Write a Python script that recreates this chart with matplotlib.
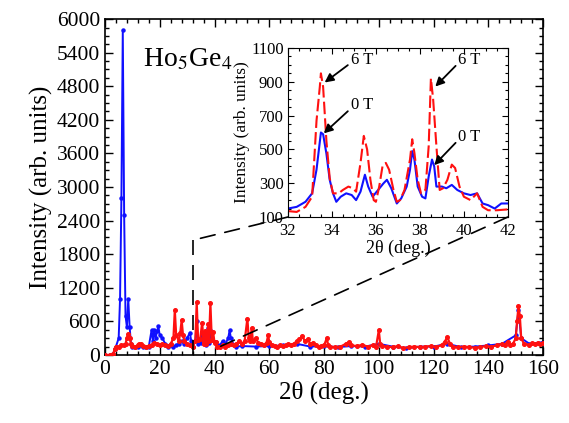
import matplotlib
matplotlib.use("Agg")
import matplotlib.pyplot as plt
from matplotlib.patches import ConnectionPatch
from matplotlib.ticker import MultipleLocator

plt.rcParams['font.family'] = ['Liberation Serif', 'DejaVu Serif']
plt.rcParams['mathtext.fontset'] = 'stix'
plt.rcParams['axes.formatter.use_mathtext'] = False

# --- dados do difratograma completo (2θ em graus, intensidade) ---
blue_x = [0, 2, 3, 3.5, 4, 5, 5.5, 6, 6.5, 7, 7.5, 8, 8.5, 9, 9.5, 10, 11, 12, 13, 14,
          15, 16, 17, 17.5, 18, 18.5, 19, 19.5, 20, 21, 22, 23, 24, 25, 26, 27, 28, 29,
          30, 31, 31.5, 32, 33, 33.5, 34, 35, 35.5, 36, 36.5, 37, 37.7, 38, 38.5, 39, 40,
          40.6, 41, 42, 43, 44, 45, 45.5, 46, 47, 48, 50, 55, 60, 65, 70, 75, 80, 85, 90,
          95, 100, 105, 110, 115, 120, 125, 130, 135, 140, 145, 150, 151, 152, 155, 160]
blue_y = [0, 0, 20, 100, 150, 300, 1000, 2800, 5800, 2500, 700, 500, 1000, 500, 200, 150,
          140, 150, 170, 150, 140, 150, 440, 250, 450, 300, 420, 510, 350, 300, 200, 150,
          170, 150, 180, 200, 250, 200, 300, 400, 250, 150, 250, 600, 200, 220, 350, 220,
          320, 180, 490, 220, 440, 280, 240, 240, 170, 180, 250, 200, 300, 440, 300, 180,
          150, 160, 150, 160, 170, 200, 150, 160, 140, 160, 150, 200, 150, 120, 150, 150,
          200, 140, 150, 170, 200, 350, 800, 300, 200, 230]

red_x = [0, 2, 3, 3.5, 4, 5, 6, 7, 7.5, 8, 8.5, 9, 9.5, 10, 11, 12, 12.5, 13, 14, 15, 16,
         17, 18, 19, 20, 21, 22, 23, 24, 25, 25.5, 26, 27, 27.5, 28, 28.5, 29, 30, 31, 32,
         33, 33.5, 34, 34.75, 35.5, 36, 36.5, 37, 37.7, 38, 38.5, 39, 39.5, 40, 40.6, 41,
         42, 43, 44, 45, 46, 47, 48, 49, 50, 51, 52, 52.5, 53, 53.6, 54, 55, 56, 57, 58,
         59, 59.6, 60, 61, 62, 63, 64, 65, 66, 67, 68, 69, 70, 71, 72, 73, 74, 75, 76, 77,
         78, 79, 80, 81, 81.5, 82, 84, 86, 88, 89, 90, 92, 94, 96, 98, 99, 100, 100.5,
         101, 103, 105, 107, 109, 111, 113, 115, 117, 119, 121, 123, 124, 125, 126, 127,
         129, 131, 133, 135, 137, 139, 141, 143, 145, 146, 147, 148, 149, 150, 150.5, 151,
         151.5, 152, 153, 155, 156, 157, 158, 159, 160]
red_y = [0, 0, 10, 100, 150, 150, 170, 180, 200, 300, 380, 300, 200, 160, 150, 170, 200,
         190, 160, 150, 160, 170, 220, 200, 180, 200, 180, 160, 200, 300, 800, 350, 250,
         400, 620, 350, 250, 200, 180, 150, 250, 940, 260, 280, 580, 190, 420, 190, 560,
         250, 920, 270, 410, 220, 240, 150, 145, 180, 150, 170, 200, 180, 200, 250, 200,
         250, 650, 300, 250, 480, 250, 300, 220, 200, 180, 220, 350, 230, 180, 160, 150,
         170, 160, 180, 200, 170, 200, 250, 280, 340, 250, 280, 200, 220, 170, 150, 160,
         170, 300, 180, 150, 140, 150, 200, 230, 170, 160, 180, 150, 180, 150, 440, 200,
         160, 150, 140, 160, 120, 140, 150, 140, 150, 160, 140, 180, 230, 320, 200, 150,
         140, 150, 140, 130, 140, 160, 150, 170, 200, 180, 240, 170, 200, 300, 600, 870,
         700, 300, 200, 180, 210, 200, 220, 200, 220]

# --- dados do detalhe (32-42 graus): 0 T (azul) e 6 T (vermelho) ---
ins_blue_x = [32, 32.4, 32.8, 33.1, 33.3, 33.5, 33.6, 33.75, 33.9, 34.05, 34.2, 34.4,
              34.65, 34.9, 35.1, 35.3, 35.5, 35.65, 35.85, 36.1, 36.35, 36.5, 36.7, 36.95,
              37.15, 37.4, 37.55, 37.65, 37.75, 37.9, 38.1, 38.25, 38.4, 38.55, 38.65,
              38.75, 39.0, 39.2, 39.45, 39.7, 40.0, 40.3, 40.6, 40.85, 41.1, 41.4, 41.7, 42]
ins_blue_y = [150, 160, 190, 240, 380, 600, 590, 475, 320, 240, 190, 220, 240, 230, 200,
              250, 350, 280, 220, 260, 300, 320, 270, 180, 210, 280, 380, 490, 440, 280,
              220, 210, 340, 440, 400, 280, 280, 270, 290, 260, 240, 230, 240, 180, 170,
              150, 180, 180]
ins_red_x = [32, 32.4, 32.8, 33.1, 33.3, 33.45, 33.5, 33.6, 33.75, 33.9, 34.05, 34.3, 34.5,
             34.75, 34.95, 35.1, 35.3, 35.45, 35.6, 35.75, 35.9, 36.0, 36.15, 36.3, 36.45,
             36.6, 36.8, 36.95, 37.1, 37.3, 37.55, 37.65, 37.75, 37.9, 38.05, 38.25, 38.4,
             38.5, 38.6, 38.75, 38.9, 39.05, 39.25, 39.45, 39.6, 39.8, 40.0, 40.3, 40.6,
             40.85, 41.1, 41.5, 42]
ins_red_y = [135, 130, 160, 220, 670, 870, 950, 870, 550, 330, 240, 240, 260, 280, 270,
             250, 420, 580, 500, 320, 200, 190, 280, 400, 420, 380, 260, 190, 200, 260,
             440, 560, 480, 320, 240, 260, 520, 920, 800, 520, 260, 270, 320, 410, 390,
             280, 220, 200, 240, 160, 140, 140, 145]

ins_yticks = [100, 300, 500, 700, 900, 1100]
zoom_lo, zoom_hi = 32, 42

fig = plt.figure(figsize=(5.69, 4.23), dpi=100)
ax = fig.add_axes([0.1845, 0.1608, 0.770, 0.794])

ax.plot(blue_x, blue_y, color='#1010ff', lw=1.4, marker='o', ms=2.2, zorder=2)
ax.plot(red_x, red_y, color='#ff1010', lw=1.6, marker='o', ms=2.6, zorder=3)

ax.set_xlim(0, 160)
ax.set_ylim(0, 6000)
ax.xaxis.set_major_locator(MultipleLocator(20))
ax.xaxis.set_minor_locator(MultipleLocator(4))
ax.yaxis.set_major_locator(MultipleLocator(600))
ax.yaxis.set_minor_locator(MultipleLocator(150))
ax.tick_params(which='both', direction='in', top=True, right=True, width=1, labelsize=15.5)
ax.tick_params(which='major', length=6)
ax.tick_params(which='minor', length=3)
for s in ax.spines.values():
    s.set_linewidth(1.2)
ax.set_xlabel('2θ (deg.)', fontsize=18, labelpad=1)
ax.set_ylabel('Intensity (arb. units)', fontsize=18, labelpad=3)
ax.text(0.087, 0.88, 'Ho$_5$Ge$_4$', transform=ax.transAxes, fontsize=20, va='center')

# Detalhe
ins = fig.add_axes([0.506, 0.487, 0.3866, 0.3995])
ins.set_facecolor('white')
ins.plot(ins_blue_x, ins_blue_y, color='#1010ff', lw=1.5)
ins.plot(ins_red_x, ins_red_y, color='#ff1010', lw=1.5, ls=(0, (6, 2)))
ins.set_xlim(zoom_lo, zoom_hi)
ins.set_ylim(100, 1100)
ins.xaxis.set_major_locator(MultipleLocator(2))
ins.xaxis.set_minor_locator(MultipleLocator(0.5))
ins.set_yticks(ins_yticks)
ins.yaxis.set_minor_locator(MultipleLocator(50))
ins.tick_params(which='both', direction='in', top=True, right=True, width=0.8, labelsize=12)
ins.tick_params(axis='x', pad=4)
ins.tick_params(axis='y', pad=3)
ins.tick_params(which='major', length=4)
ins.tick_params(which='minor', length=2)
ins.set_xlabel('2θ (deg.)', fontsize=13, labelpad=1)
ins.set_ylabel('Intensity (arb. units)', fontsize=12.5, labelpad=1)

seta = dict(arrowstyle='-|>', color='black', lw=1.3, mutation_scale=13,
            shrinkA=0, shrinkB=0, relpos=(0, 0.3))
ins.annotate('6 T', xy=(33.67, 896), xytext=(34.85, 1030), fontsize=12, va='center', arrowprops=seta)
ins.annotate('0 T', xy=(33.63, 595), xytext=(34.85, 760), fontsize=12, va='center', arrowprops=seta)
ins.annotate('6 T', xy=(38.7, 872), xytext=(39.75, 1030), fontsize=12, va='center', arrowprops=seta)
ins.annotate('0 T', xy=(38.65, 407), xytext=(39.75, 575), fontsize=12, va='center', arrowprops=seta)

# linhas tracejadas de zoom
traco = (0, (9, 6))
ax.vlines(zoom_lo, 0, 2050, color='black', lw=1.2, linestyles=[traco], zorder=4)
for xa, xb, yb in [(zoom_lo, zoom_lo, 2050), (zoom_hi, zoom_hi, 150)]:
    con = ConnectionPatch(xyA=(xa, 100), coordsA=ins.transData,
                          xyB=(xb, yb), coordsB=ax.transData,
                          color='black', lw=1.2, ls=traco)
    fig.add_artist(con)

fig.savefig('out.png', dpi=100)
